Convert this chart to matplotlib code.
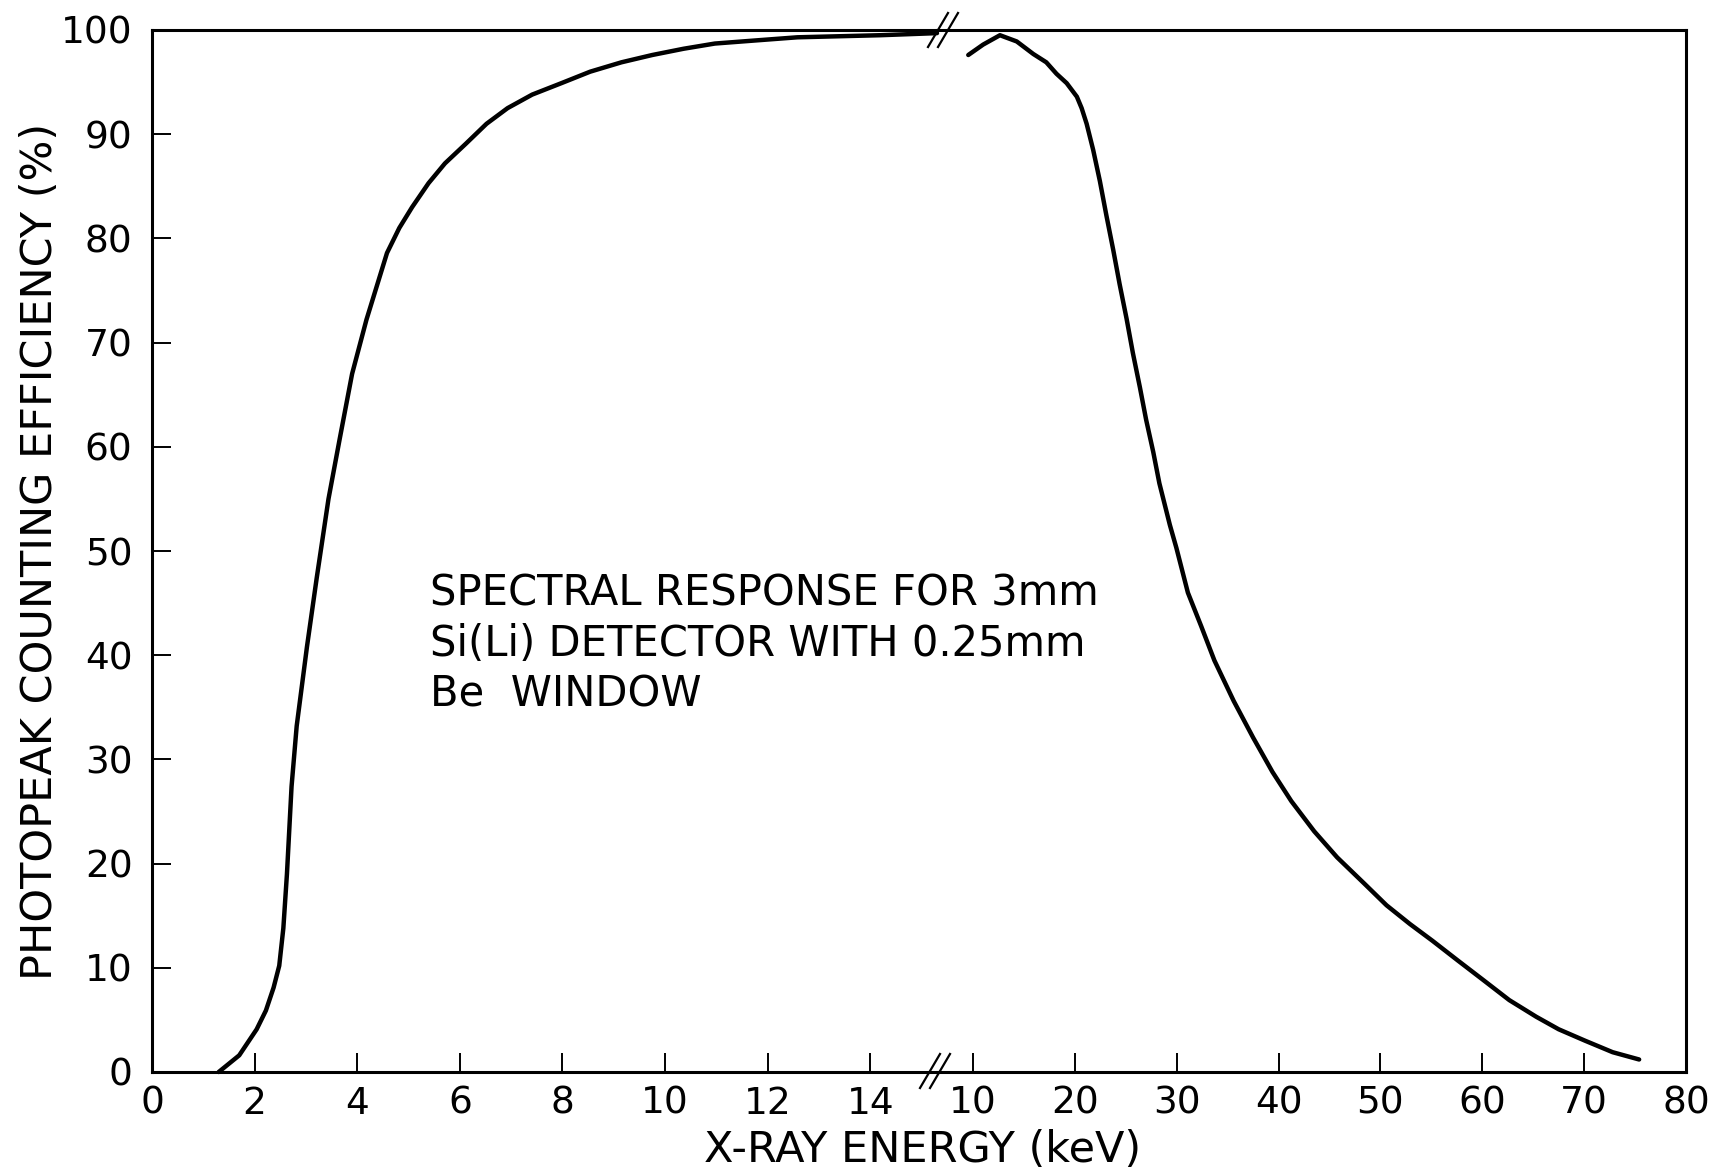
"""Si(Li) detector spectral response, broken x axis (0-15 keV, then 10-80 keV)."""
import matplotlib
matplotlib.use("Agg")
import matplotlib.pyplot as plt
from matplotlib.lines import Line2D

# low-energy branch (keV, %)
low_energy = [1.30, 1.70, 2.04, 2.22, 2.37, 2.48, 2.56, 2.63, 2.72, 2.82, 3.02, 3.21,
              3.44, 3.66, 3.90, 4.18, 4.38, 4.58, 4.82, 5.07, 5.39, 5.71, 6.12,
              6.52, 6.93, 7.41, 7.98, 8.54, 9.15, 9.75, 10.36, 10.97, 11.77,
              12.58, 13.39, 14.2, 15.3]
low_eff = [0.0, 1.6, 4.1, 5.9, 8.1, 10.2, 13.8, 19.0, 27.4, 33.2, 40.8, 47.4,
           55.0, 60.8, 67.0, 72.2, 75.4, 78.6, 81.0, 83.0, 85.3, 87.2, 89.1,
           91.0, 92.5, 93.8, 94.9, 96.0, 96.9, 97.6, 98.2, 98.7, 99.0,
           99.3, 99.4, 99.5, 99.7]

# high-energy branch (keV, %)
high_energy = [9.54, 11.0, 12.65, 14.3, 15.92, 17.2, 18.2, 19.2, 20.2, 20.67, 21.16,
               21.8, 22.46, 23.1, 23.77, 24.4, 25.08, 25.7, 26.39, 27.0, 27.7,
               28.3, 29.33, 29.97, 31.1, 32.4, 33.7, 35.6, 37.5, 39.4, 41.25,
               43.5, 45.75, 48.4, 50.6, 52.9, 55.1, 57.6, 60.0, 62.65, 65.3,
               67.5, 70.1, 72.8, 75.4]
high_eff = [97.6, 98.6, 99.5, 98.9, 97.7, 96.9, 95.8, 94.9, 93.6, 92.5, 91.0,
            88.5, 85.5, 82.2, 78.9, 75.6, 72.3, 69.0, 65.7, 62.6, 59.5,
            56.5, 52.5, 50.3, 46.0, 42.8, 39.5, 35.6, 32.1, 28.8, 26.0,
            23.1, 20.6, 18.1, 16.0, 14.2, 12.6, 10.7, 8.9, 6.9, 5.3,
            4.1, 3.0, 1.9, 1.2]

low_ticks = [0, 2, 4, 6, 8, 10, 12, 14]
high_ticks = [10, 20, 30, 40, 50, 60, 70, 80]
y_ticks = [0, 10, 20, 30, 40, 50, 60, 70, 80, 90, 100]

note_lines = ["SPECTRAL RESPONSE FOR 3mm",
              "Si(Li) DETECTOR WITH 0.25mm",
              "Be  WINDOW"]

W, H = 1717, 1171
plt.rcParams["font.family"] = ["DejaVu Sans"]
fig = plt.figure(figsize=(W / 100, H / 100), dpi=100)

x0, xj, x1 = 152, 937, 1686      # left spine, break, right spine (px)
ytop, ybot = 30, 1072
axl = fig.add_axes([x0 / W, 1 - ybot / H, (xj - x0) / W, (ybot - ytop) / H])
axr = fig.add_axes([xj / W, 1 - ybot / H, (x1 - xj) / W, (ybot - ytop) / H])

axl.set_xlim(0, 15.3)
axr.set_xlim(6.47, 80)
for ax in (axl, axr):
    ax.set_ylim(0, 100)
    ax.set_facecolor("none")
    for s in ax.spines.values():
        s.set_linewidth(2.2)
    ax.tick_params(direction="in", length=14, width=1.4, labelsize=27,
                   pad=10)
axl.spines["right"].set_visible(False)
axr.spines["left"].set_visible(False)

axl.plot(low_energy, low_eff, color="black", lw=3.2, solid_joinstyle="round",
         solid_capstyle="round", clip_on=False)
axr.plot(high_energy, high_eff, color="black", lw=3.2, solid_joinstyle="round",
         solid_capstyle="round", clip_on=False)

axl.set_xticks(low_ticks)
axr.set_xticks(high_ticks)
axl.set_yticks(y_ticks)
axl.tick_params(axis="y", pad=14)
axr.tick_params(axis="y", left=False, labelleft=False)

# break marks "//" on top and bottom spines
def brk(cx, cy):
    for dx in (0, 10):
        fig.add_artist(Line2D([(cx + dx - 10) / W, (cx + dx + 10) / W],
                              [1 - (cy + 17) / H, 1 - (cy - 17) / H],
                              color="black", lw=1.6))
brk(938, 30)
brk(930, 1071)

# annotation
for i, line in enumerate(note_lines):
    axl.text(5.42, 44.8 - i * 4.85, line, fontsize=30, va="baseline", ha="left",
             clip_on=False, zorder=5)

fig.text(923 / W, 1 - 1150 / H, "X-RAY ENERGY (keV)", fontsize=31,
         ha="center", va="center")
fig.text(40 / W, 1 - 551 / H, "PHOTOPEAK COUNTING EFFICIENCY (%)", fontsize=31,
         rotation=90, ha="center", va="center")

fig.savefig("out.png", dpi=100)
